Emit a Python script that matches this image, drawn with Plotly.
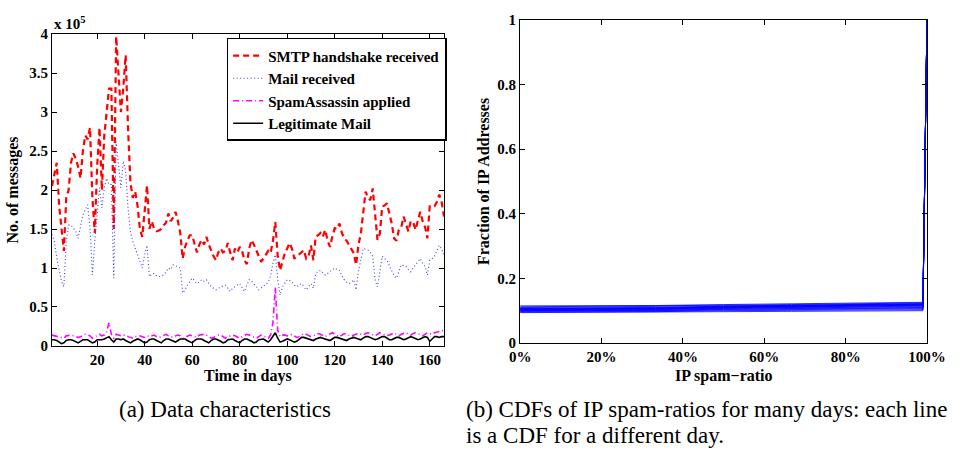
import plotly.graph_objects as go

# ---------------- data: panel (a), values in units of 10^5 messages ----------------
days = list(range(1, 167))

smtp_handshake = [
    2.05, 2.20, 2.35, 1.80, 1.50, 1.22, 1.90, 2.00, 2.35, 2.47,
    2.40, 2.30, 2.15, 2.50, 2.70, 2.65, 2.80, 1.90, 1.45, 2.30,
    2.80, 2.00, 2.70, 3.00, 3.30, 3.30, 1.50, 3.97, 3.45, 3.00,
    3.30, 3.73, 2.80, 2.10, 1.90, 1.98, 1.80, 1.50, 1.40, 1.75,
    2.06, 1.50, 1.60, 1.50, 1.47, 1.48, 1.50, 1.55, 1.58, 1.70,
    1.60, 1.65, 1.72, 1.60, 1.45, 1.12, 1.27, 1.35, 1.42, 1.42,
    1.30, 1.20, 1.30, 1.36, 1.30, 1.40, 1.30, 1.22, 1.15, 1.10,
    1.20, 1.25, 1.20, 1.22, 1.32, 1.20, 1.10, 1.25, 1.20, 1.27,
    1.22, 1.10, 1.05, 1.25, 1.36, 1.30, 1.23, 1.15, 1.08, 1.12,
    1.17, 1.22, 1.19, 1.35, 1.59, 1.15, 0.97, 1.10, 1.19, 1.25,
    1.32, 1.25, 1.12, 1.15, 1.17, 1.20, 1.23, 1.12, 1.15, 1.29,
    1.10, 1.40, 1.42, 1.45, 1.40, 1.49, 1.35, 1.27, 1.40, 1.51,
    1.50, 1.57, 1.45, 1.38, 1.35, 1.30, 1.25, 1.19, 1.04, 1.30,
    1.44, 1.74, 1.98, 1.90, 1.87, 2.02, 1.70, 1.36, 1.44, 1.79,
    1.80, 1.83, 1.70, 1.57, 1.38, 1.35, 1.49, 1.52, 1.66, 1.55,
    1.47, 1.60, 1.59, 1.49, 1.62, 1.72, 1.60, 1.53, 1.38, 1.79,
    1.78, 1.79, 1.85, 1.94, 1.85, 1.66,
]

mail_received = [
    1.43, 1.34, 1.13, 1.00, 0.83, 0.76, 1.34, 1.55, 1.55, 1.51,
    1.47, 1.38, 1.55, 1.68, 1.75, 1.81, 1.51, 0.91, 1.34, 1.68,
    2.03, 1.77, 2.03, 2.15, 2.07, 2.07, 0.87, 2.62, 2.28, 2.03,
    2.37, 2.24, 1.77, 1.47, 1.34, 1.26, 1.17, 1.09, 1.00, 1.17,
    1.29, 0.89, 0.92, 0.93, 0.90, 0.89, 0.90, 0.91, 0.95, 1.00,
    0.98, 1.04, 1.03, 1.02, 1.00, 0.68, 0.72, 0.78, 0.82, 0.87,
    0.84, 0.80, 0.82, 0.85, 0.83, 0.85, 0.80, 0.76, 0.74, 0.72,
    0.74, 0.76, 0.77, 0.78, 0.74, 0.70, 0.74, 0.76, 0.78, 0.80,
    0.75, 0.70, 0.78, 0.85, 0.83, 0.80, 0.76, 0.72, 0.74, 0.76,
    0.79, 0.82, 0.90, 1.06, 1.17, 0.85, 0.65, 0.76, 0.80, 0.85,
    0.84, 0.82, 0.78, 0.76, 0.78, 0.80, 0.76, 0.72, 0.76, 0.80,
    0.74, 0.93, 0.95, 0.97, 0.94, 0.91, 0.93, 0.95, 0.98, 1.00,
    0.98, 0.97, 0.90, 0.85, 0.82, 0.80, 0.82, 0.85, 0.72, 0.97,
    1.10, 1.25, 1.24, 1.23, 1.20, 1.15, 0.85, 0.76, 0.95, 1.15,
    1.12, 1.10, 1.03, 0.97, 0.90, 0.87, 0.95, 1.04, 1.03, 1.02,
    0.98, 0.95, 1.00, 1.04, 1.08, 1.12, 1.06, 1.02, 0.91, 1.10,
    1.12, 1.15, 1.22, 1.29, 1.25, 1.15,
]

spamassassin = [
    0.14, 0.13, 0.13, 0.12, 0.11, 0.10, 0.13, 0.14, 0.14, 0.13,
    0.12, 0.11, 0.12, 0.14, 0.15, 0.14, 0.13, 0.10, 0.12, 0.14,
    0.15, 0.13, 0.14, 0.18, 0.30, 0.15, 0.10, 0.15, 0.14, 0.13,
    0.14, 0.14, 0.12, 0.11, 0.10, 0.12, 0.13, 0.13, 0.12, 0.11,
    0.13, 0.12, 0.13, 0.14, 0.12, 0.11, 0.12, 0.14, 0.15, 0.13,
    0.12, 0.11, 0.13, 0.14, 0.13, 0.10, 0.11, 0.13, 0.14, 0.13,
    0.12, 0.11, 0.14, 0.15, 0.15, 0.14, 0.12, 0.10, 0.11, 0.13,
    0.14, 0.14, 0.12, 0.10, 0.12, 0.13, 0.14, 0.13, 0.11, 0.10,
    0.12, 0.14, 0.15, 0.14, 0.13, 0.11, 0.10, 0.12, 0.14, 0.13,
    0.11, 0.10, 0.14, 0.30, 0.75, 0.20, 0.12, 0.14, 0.14, 0.13,
    0.14, 0.15, 0.13, 0.11, 0.12, 0.14, 0.16, 0.15, 0.13, 0.12,
    0.13, 0.15, 0.16, 0.15, 0.13, 0.12, 0.14, 0.16, 0.17, 0.15,
    0.13, 0.12, 0.14, 0.16, 0.15, 0.13, 0.12, 0.14, 0.15, 0.16,
    0.15, 0.14, 0.16, 0.17, 0.16, 0.14, 0.13, 0.15, 0.17, 0.16,
    0.15, 0.13, 0.14, 0.16, 0.17, 0.15, 0.13, 0.15, 0.16, 0.17,
    0.15, 0.14, 0.16, 0.17, 0.16, 0.14, 0.13, 0.15, 0.17, 0.16,
    0.15, 0.17, 0.18, 0.19, 0.20, 0.20,
]

legitimate = [
    0.08, 0.08, 0.07, 0.05, 0.03, 0.04, 0.07, 0.08, 0.08, 0.07,
    0.05, 0.04, 0.06, 0.08, 0.08, 0.08, 0.06, 0.04, 0.05, 0.08,
    0.08, 0.08, 0.09, 0.10, 0.12, 0.08, 0.05, 0.09, 0.09, 0.08,
    0.09, 0.07, 0.05, 0.04, 0.06, 0.08, 0.09, 0.08, 0.06, 0.04,
    0.05, 0.08, 0.09, 0.09, 0.07, 0.05, 0.04, 0.07, 0.09, 0.09,
    0.08, 0.06, 0.05, 0.07, 0.09, 0.09, 0.09, 0.07, 0.05, 0.04,
    0.07, 0.09, 0.09, 0.09, 0.07, 0.05, 0.04, 0.07, 0.09, 0.09,
    0.08, 0.06, 0.04, 0.05, 0.08, 0.09, 0.09, 0.07, 0.05, 0.04,
    0.07, 0.09, 0.09, 0.08, 0.06, 0.04, 0.05, 0.08, 0.09, 0.09,
    0.07, 0.05, 0.08, 0.12, 0.17, 0.10, 0.05, 0.06, 0.08, 0.09,
    0.08, 0.06, 0.05, 0.06, 0.09, 0.11, 0.11, 0.10, 0.09, 0.08,
    0.07, 0.09, 0.10, 0.11, 0.10, 0.09, 0.08, 0.07, 0.09, 0.11,
    0.11, 0.10, 0.09, 0.07, 0.07, 0.09, 0.10, 0.11, 0.10, 0.09,
    0.08, 0.10, 0.12, 0.12, 0.11, 0.10, 0.08, 0.09, 0.11, 0.12,
    0.12, 0.10, 0.08, 0.08, 0.10, 0.11, 0.11, 0.10, 0.08, 0.09,
    0.11, 0.12, 0.11, 0.10, 0.08, 0.09, 0.11, 0.12, 0.11, 0.06,
    0.09, 0.12, 0.12, 0.11, 0.12, 0.12,
]

series_names = ["SMTP handshake received", "Mail received",
                "SpamAssassin applied", "Legitimate Mail"]

# ---------------- data: panel (b), CDFs of IP spam-ratio (%) ----------------
cdf_ratio = [0, 33.3, 50, 66.7, 99, 100]
cdf_days = [
    [0.094, 0.095, 0.097, 0.098, 0.100, 1.0],
    [0.096, 0.097, 0.100, 0.101, 0.103, 1.0],
    [0.098, 0.099, 0.102, 0.103, 0.106, 1.0],
    [0.099, 0.100, 0.104, 0.105, 0.108, 1.0],
    [0.100, 0.101, 0.105, 0.106, 0.110, 1.0],
    [0.101, 0.103, 0.107, 0.108, 0.112, 1.0],
    [0.102, 0.104, 0.108, 0.110, 0.114, 1.0],
    [0.103, 0.105, 0.109, 0.111, 0.116, 1.0],
    [0.104, 0.106, 0.110, 0.112, 0.117, 1.0],
    [0.105, 0.107, 0.111, 0.113, 0.118, 1.0],
    [0.106, 0.108, 0.112, 0.114, 0.119, 1.0],
    [0.107, 0.109, 0.113, 0.115, 0.120, 1.0],
    [0.108, 0.110, 0.114, 0.116, 0.121, 1.0],
    [0.110, 0.112, 0.115, 0.117, 0.122, 1.0],
    [0.112, 0.114, 0.117, 0.119, 0.124, 1.0],
    [0.115, 0.116, 0.119, 0.121, 0.126, 1.0],
]

# ---------------- figure ----------------
FONT = "Times New Roman, Liberation Serif, Times, serif"
fig = go.Figure()

styles = [
    dict(color="#ff0000", width=2.2, dash="6px,4px"),
    dict(color="#3b3bff", width=1.1, dash="1px,2.5px"),
    dict(color="#ff00ff", width=1.6, dash="6px,3px,1px,3px"),
    dict(color="#000000", width=1.6, dash="solid"),
]
for name, vals, st in zip(series_names,
                          [smtp_handshake, mail_received, spamassassin, legitimate],
                          styles):
    fig.add_trace(go.Scatter(x=days, y=vals, mode="lines", name=name,
                             line=st, xaxis="x", yaxis="y"))

for vals in cdf_days:
    fig.add_trace(go.Scatter(x=cdf_ratio, y=vals, mode="lines", showlegend=False,
                             line=dict(color="#0000ff", width=0.8),
                             xaxis="x2", yaxis="y2"))

axis_common = dict(showline=True, linecolor="black", linewidth=1.2, mirror="ticks",
                   ticks="inside", ticklen=5, tickcolor="black", showgrid=False,
                   zeroline=False,
                   tickfont=dict(family=FONT, size=15, color="black", weight="bold"))

title_font = dict(family=FONT, size=16, color="black", weight="bold")
caption_font = dict(family=FONT, size=23, color="black")


def px_x(px):
    return (px - 52) / 886


def px_y(py):
    return (346 - py) / 327


fig.update_layout(
    width=958, height=453,
    margin=dict(l=52, r=20, t=19, b=107),
    paper_bgcolor="white", plot_bgcolor="white",
    font=dict(family=FONT, color="black"),
    xaxis=dict(domain=[0, 0.448], range=[1, 166], tick0=0, dtick=20, **axis_common),
    yaxis=dict(domain=[0, 0.957], range=[0, 4], dtick=0.5,
               title=dict(text="No. of messages", font=title_font, standoff=6),
               **axis_common),
    xaxis2=dict(domain=[0.535, 1], range=[0, 100], dtick=20, ticksuffix="%",
                anchor="y2", **axis_common),
    yaxis2=dict(domain=[0.0092, 1], range=[0, 1], dtick=0.2, anchor="x2",
                **axis_common),
    legend=dict(x=0.451, y=0.945, xanchor="right", yanchor="top",
                bgcolor="white", bordercolor="black", borderwidth=1.5,
                font=dict(family=FONT, size=15, color="black", weight="bold"),
                tracegroupgap=0, itemwidth=30),
    annotations=[
        dict(text="x 10<sup>5</sup>", xref="x domain", yref="y domain", x=0, y=1,
             xanchor="left", yanchor="bottom", showarrow=False, yshift=0,
             font=dict(family=FONT, size=15, color="black", weight="bold")),
        dict(text="Time in days", xref="paper", yref="paper",
             x=px_x(250), y=px_y(376), xanchor="center", yanchor="middle",
             showarrow=False, font=title_font),
        dict(text="IP spam\u2212ratio", xref="paper", yref="paper",
             x=px_x(732), y=px_y(376), xanchor="center", yanchor="middle",
             showarrow=False, font=title_font),
        dict(text="Fraction of IP Addresses", xref="paper", yref="paper",
             x=px_x(489), y=px_y(181), xanchor="center", yanchor="middle",
             textangle=-90, showarrow=False, font=title_font),
        dict(text="(a) Data characteristics", xref="paper", yref="paper",
             x=px_x(118), y=px_y(410), xanchor="left", yanchor="middle",
             showarrow=False, font=caption_font),
        dict(text="(b) CDFs of IP spam-ratios for many days: each line",
             xref="paper", yref="paper",
             x=px_x(469), y=px_y(410), xanchor="left", yanchor="middle",
             showarrow=False, font=caption_font),
        dict(text="is a CDF for a different day.",
             xref="paper", yref="paper",
             x=px_x(469), y=px_y(436), xanchor="left", yanchor="middle",
             showarrow=False, font=caption_font),
    ],
)

fig.write_html("out.html")
